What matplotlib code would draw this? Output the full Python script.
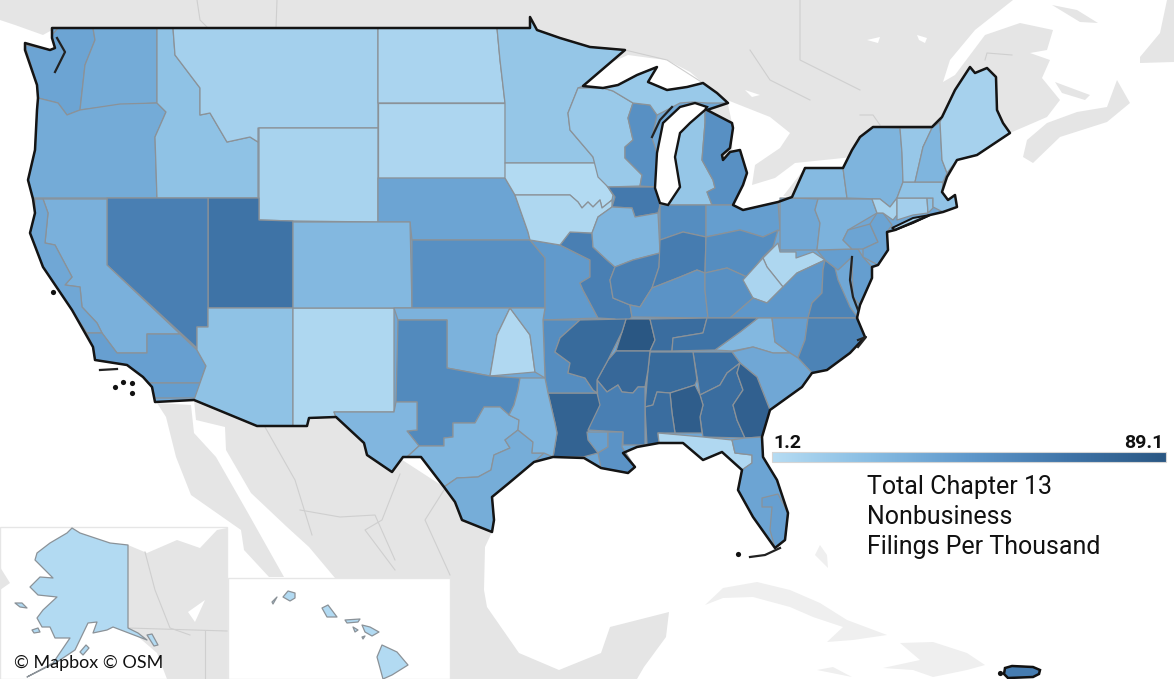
"""Chapter 13 nonbusiness filings per thousand, by court district (hand traced outlines)."""
import matplotlib
matplotlib.use("Agg")
import matplotlib.pyplot as plt
import numpy as np
from matplotlib.colors import LinearSegmentedColormap, Normalize
from matplotlib.patches import Polygon, Rectangle

# filings per thousand
DISTRICTS = ["WA W", "WA E", "OR", "ID", "MT", "WY", "ND", "SD", "NE", "MN", "UT", "NV",
             "CA E", "CA N", "CA C", "CA S", "AZ", "NM", "CO", "KS", "MO W", "MO E", "IA N", "IA S",
             "WI W", "WI E", "MI UP", "MI W", "MI E", "IL N", "IL C", "IL S", "IN N", "IN S",
             "OH N", "OH S", "KY W", "KY E", "WV N", "WV S", "VA W", "VA E", "MD", "PA W", "PA M",
             "PA E", "NJ", "NY W", "NY N", "NY E", "NY LI", "CT", "RI", "MA", "VT", "NH", "ME",
             "NC W", "NC M", "NC E", "SC", "GA N", "GA M", "GA S", "AL N", "AL M", "AL S",
             "TN W", "TN M", "TN E", "MS N", "MS S", "LA W", "LA M", "LA E", "AR W", "AR E",
             "OK W", "OK N", "OK E", "TX N", "TX W", "TX C", "TX S", "TX E",
             "FL N", "FL M", "FL S", "AK", "AK 2", "AK 3", "AK 4", "AK 5",
             "HI 1", "HI 2", "HI 3", "HI 4", "HI 5", "HI 6", "HI 7", "HI 8", "PR"]
FILINGS = [38, 34, 34, 20, 10, 8, 7, 6, 38, 17, 68, 60,
           31, 36, 41, 42, 20, 5, 26, 50, 44, 60, 3, 5,
           15, 50, 15, 17, 50, 64, 28, 60, 52, 62,
           42, 52, 48, 50, 5, 7, 46, 58, 42, 36, 30,
           38, 38, 25, 29, 8, 6, 11, 20, 19, 16, 28, 9,
           26, 41, 58, 36, 70, 72, 82, 74, 84, 72,
           89, 72, 68, 76, 60, 80, 40, 48, 52, 74,
           30, 4, 28, 54, 27, 28, 33, 28,
           4, 38, 41, 3, 3, 3, 3, 3,
           3, 3, 3, 3, 3, 3, 3, 3, 62]
VALUE_MIN, VALUE_MAX = 1.2, 89.1

SHAPES = {
    "WA W": [(58, 28), (93, 28), (95, 40), (85, 65), (80, 110), (67, 115), (58, 103), (38, 98), (37, 85), (25, 45), (50, 50), (55, 48), (52, 35)],
    "WA E": [(93, 28), (157, 28), (157, 103), (120, 105), (80, 110), (85, 65), (95, 40)],
    "OR": [(38, 98), (58, 103), (67, 115), (80, 110), (120, 104), (157, 103), (166, 112), (155, 137), (157, 198), (33, 198), (28, 180), (35, 150), (37, 110)],
    "ID": [(157, 28), (173, 28), (175, 55), (200, 88), (200, 115), (210, 113), (227, 142), (250, 137), (258, 142), (258, 198), (157, 198), (155, 137), (166, 112), (157, 103)],
    "MT": [(173, 28), (378, 28), (378, 128), (258, 128), (258, 142), (250, 137), (227, 142), (210, 113), (200, 115), (200, 88), (175, 55)],
    "WY": [(259, 128), (378, 128), (378, 222), (293, 221), (259, 220)],
    "ND": [(378, 28), (497, 28), (500, 60), (505, 103), (378, 103)],
    "SD": [(378, 103), (505, 103), (505, 178), (378, 178)],
    "NE": [(378, 178), (505, 178), (515, 195), (528, 232), (530, 240), (412, 240), (410, 222), (378, 222)],
    "MN": [(497, 28), (530, 28), (530, 17), (537, 30), (560, 38), (590, 47), (625, 50), (583, 86), (578, 88), (568, 113), (570, 130), (593, 157), (595, 163), (505, 163), (505, 103), (500, 60)],
    "UT": [(208, 198), (259, 198), (259, 220), (293, 221), (293, 308), (208, 308)],
    "NV": [(107, 198), (208, 198), (208, 327), (197, 327), (197, 348), (107, 265)],
    "CA E": [(43, 199), (107, 199), (107, 265), (197, 350), (180, 334), (147, 334), (147, 353), (117, 353), (102, 333), (97, 323), (82, 307), (80, 287), (65, 285), (72, 277), (55, 245), (45, 243), (48, 213)],
    "CA N": [(35, 199), (43, 199), (48, 213), (45, 243), (55, 245), (72, 277), (65, 285), (80, 287), (82, 307), (97, 323), (102, 333), (87, 333), (72, 310), (43, 267), (30, 233), (35, 213)],
    "CA C": [(87, 333), (102, 333), (117, 353), (147, 353), (147, 334), (180, 334), (197, 350), (206, 366), (200, 383), (148, 383), (143, 377), (127, 365), (95, 360), (93, 347)],
    "CA S": [(148, 383), (200, 383), (197, 398), (155, 398), (152, 387)],
    "AZ": [(197, 327), (208, 327), (208, 308), (293, 308), (293, 426), (257, 426), (194, 400), (200, 383), (206, 366), (197, 350)],
    "NM": [(293, 308), (394, 308), (394, 412), (334, 412), (336, 417), (309, 418), (307, 426), (293, 426)],
    "CO": [(293, 222), (410, 222), (412, 308), (293, 308)],
    "KS": [(412, 240), (530, 240), (545, 258), (545, 308), (412, 308)],
    "MO W": [(530, 240), (560, 245), (590, 260), (590, 277), (580, 283), (583, 290), (590, 303), (598, 318), (543, 320), (545, 308), (545, 258)],
    "MO E": [(560, 245), (570, 232), (592, 233), (593, 247), (607, 260), (615, 267), (610, 280), (613, 298), (630, 305), (632, 317), (620, 328), (615, 319), (598, 318), (590, 303), (583, 290), (580, 283), (590, 277), (590, 260)],
    "IA N": [(505, 163), (595, 163), (600, 175), (613, 195), (612, 200), (602, 208), (600, 200), (593, 207), (588, 202), (582, 208), (578, 202), (570, 195), (515, 195), (505, 178)],
    "IA S": [(515, 195), (570, 195), (578, 202), (582, 208), (588, 202), (593, 207), (600, 200), (602, 208), (612, 200), (612, 207), (598, 217), (592, 233), (570, 232), (560, 245), (530, 240), (528, 232)],
    "WI W": [(578, 88), (603, 88), (613, 91), (633, 103), (628, 118), (633, 140), (625, 147), (625, 158), (642, 175), (640, 186), (608, 187), (598, 177), (593, 157), (570, 130), (568, 113)],
    "WI E": [(633, 103), (650, 105), (657, 115), (652, 138), (657, 153), (655, 187), (640, 186), (642, 175), (625, 158), (625, 147), (633, 140), (628, 118)],
    "MI UP": [(603, 88), (618, 85), (637, 75), (657, 67), (648, 82), (667, 90), (687, 87), (703, 83), (717, 93), (728, 103), (707, 103), (693, 102), (680, 103), (663, 112), (657, 115), (650, 105), (633, 103), (613, 91)],
    "MI W": [(690, 123), (705, 110), (705, 123), (703, 147), (702, 160), (713, 180), (715, 188), (707, 192), (712, 205), (668, 205), (680, 187), (675, 157), (680, 133)],
    "MI E": [(705, 110), (732, 123), (733, 128), (730, 148), (722, 155), (723, 160), (730, 152), (740, 150), (747, 173), (743, 185), (733, 205), (712, 205), (707, 192), (715, 188), (713, 180), (702, 160), (703, 147), (705, 123)],
    "IL N": [(608, 187), (655, 187), (660, 205), (658, 213), (635, 217), (632, 208), (612, 207), (615, 197)],
    "IL C": [(612, 207), (632, 208), (635, 217), (658, 213), (660, 253), (633, 260), (615, 267), (607, 260), (593, 247), (592, 233), (598, 217)],
    "IL S": [(615, 267), (633, 260), (660, 253), (659, 267), (652, 288), (640, 307), (630, 305), (613, 298), (610, 280)],
    "IN N": [(660, 205), (706, 205), (706, 237), (683, 232), (660, 240)],
    "IN S": [(660, 240), (683, 232), (706, 237), (705, 273), (697, 270), (680, 277), (652, 288), (659, 267)],
    "OH N": [(706, 205), (733, 205), (743, 210), (778, 202), (780, 230), (763, 237), (740, 230), (706, 237)],
    "OH S": [(706, 237), (740, 230), (763, 237), (778, 230), (773, 247), (763, 257), (747, 277), (727, 268), (705, 273)],
    "KY W": [(632, 317), (630, 305), (640, 307), (652, 288), (680, 277), (697, 270), (705, 273), (705, 290), (708, 318)],
    "KY E": [(705, 273), (727, 268), (747, 277), (753, 298), (730, 318), (708, 318), (705, 290)],
    "WV N": [(763, 258), (778, 243), (780, 252), (796, 252), (796, 258), (813, 252), (825, 260), (797, 273), (783, 287), (767, 267)],
    "WV S": [(763, 258), (767, 267), (783, 287), (767, 303), (753, 298), (743, 280)],
    "VA W": [(730, 318), (753, 298), (767, 303), (783, 287), (797, 273), (825, 260), (823, 270), (822, 293), (812, 303), (808, 318)],
    "VA E": [(825, 260), (835, 268), (838, 280), (850, 307), (858, 318), (808, 318), (812, 303), (822, 293), (823, 270)],
    "MD": [(817, 250), (858, 249), (863, 257), (872, 267), (872, 278), (860, 305), (853, 297), (852, 257), (838, 270), (825, 260)],
    "PA W": [(780, 198), (792, 198), (818, 199), (815, 210), (820, 223), (817, 250), (780, 250)],
    "PA M": [(818, 199), (872, 199), (877, 213), (848, 230), (843, 240), (852, 249), (817, 250), (820, 223), (815, 210)],
    "PA E": [(848, 230), (870, 224), (878, 242), (863, 249), (852, 249), (843, 240)],
    "NJ": [(877, 213), (883, 213), (892, 225), (887, 232), (888, 250), (878, 265), (863, 257), (863, 249), (878, 242), (870, 224)],
    "NY W": [(792, 198), (805, 168), (843, 168), (847, 198)],
    "NY N": [(843, 168), (852, 150), (860, 137), (873, 127), (900, 128), (902, 153), (903, 182), (897, 198), (890, 207), (880, 199), (847, 198)],
    "NY E": [(872, 199), (880, 199), (890, 207), (897, 198), (897, 215), (893, 220), (883, 213), (877, 213)],
    "NY LI": [(892, 228), (913, 218), (930, 215), (913, 223), (895, 230)],
    "CT": [(897, 198), (927, 198), (928, 213), (913, 215), (897, 220)],
    "RI": [(927, 198), (933, 198), (933, 208), (928, 213)],
    "MA": [(903, 182), (943, 182), (942, 192), (948, 200), (955, 195), (957, 207), (943, 212), (933, 207), (933, 198), (897, 198)],
    "VT": [(900, 128), (932, 128), (923, 147), (915, 182), (903, 182), (902, 153)],
    "NH": [(932, 128), (940, 122), (942, 160), (947, 173), (943, 182), (915, 182), (923, 147)],
    "ME": [(940, 122), (955, 90), (970, 67), (975, 73), (987, 68), (996, 77), (997, 110), (1003, 123), (1010, 133), (977, 155), (957, 160), (947, 173), (942, 160)],
    "NC W": [(758, 318), (772, 318), (775, 342), (790, 353), (773, 353), (753, 347), (732, 351), (715, 350), (740, 332)],
    "NC M": [(772, 318), (808, 318), (805, 340), (798, 358), (790, 353), (775, 342)],
    "NC E": [(808, 318), (857, 318), (865, 337), (850, 353), (827, 370), (812, 373), (798, 358), (805, 340)],
    "SC": [(732, 352), (753, 347), (773, 353), (790, 353), (798, 358), (812, 373), (802, 387), (770, 410), (757, 377), (740, 363)],
    "GA N": [(693, 352), (732, 352), (740, 363), (727, 373), (720, 385), (700, 395)],
    "GA M": [(700, 395), (720, 385), (727, 373), (740, 363), (737, 373), (743, 390), (733, 405), (737, 420), (745, 438), (703, 437), (700, 417), (703, 405)],
    "GA S": [(740, 363), (757, 377), (770, 410), (762, 437), (745, 438), (737, 420), (733, 405), (743, 390), (737, 373)],
    "AL N": [(650, 352), (693, 352), (697, 380), (695, 385), (670, 393), (657, 392), (653, 405), (645, 407), (648, 370)],
    "AL M": [(670, 393), (695, 385), (700, 395), (703, 405), (700, 417), (702, 433), (675, 433), (672, 413)],
    "AL S": [(657, 392), (670, 393), (672, 413), (675, 433), (658, 433), (659, 443), (647, 445), (645, 407), (653, 405)],
    "TN W": [(626, 319), (650, 319), (655, 340), (650, 351), (616, 351), (622, 332)],
    "TN M": [(650, 319), (707, 318), (703, 333), (673, 338), (672, 351), (650, 351), (655, 340)],
    "TN E": [(707, 318), (758, 318), (740, 332), (715, 350), (672, 351), (673, 338), (703, 333)],
    "MS N": [(616, 351), (650, 351), (648, 370), (645, 387), (638, 387), (633, 393), (622, 392), (618, 385), (607, 392), (597, 380), (608, 360)],
    "MS S": [(597, 380), (607, 392), (618, 385), (622, 392), (633, 393), (638, 387), (645, 387), (645, 445), (623, 445), (623, 432), (588, 430), (598, 405)],
    "LA W": [(548, 393), (597, 393), (600, 405), (588, 430), (598, 453), (583, 457), (553, 457), (557, 433), (555, 423)],
    "LA M": [(587, 432), (608, 432), (608, 447), (598, 453), (588, 440)],
    "LA E": [(608, 432), (623, 432), (622, 447), (635, 467), (628, 473), (601, 468), (598, 453), (608, 447)],
    "AR W": [(543, 320), (580, 320), (560, 338), (555, 352), (570, 363), (568, 373), (585, 378), (593, 390), (597, 393), (548, 393), (545, 378)],
    "AR E": [(580, 320), (626, 319), (622, 332), (608, 360), (597, 380), (597, 393), (593, 390), (585, 378), (568, 373), (570, 363), (555, 352), (560, 338)],
    "OK W": [(394, 308), (510, 308), (497, 335), (490, 376), (447, 368), (447, 320), (398, 320)],
    "OK N": [(510, 308), (530, 335), (535, 372), (490, 376), (497, 335)],
    "OK E": [(510, 308), (545, 308), (543, 320), (545, 378), (535, 372), (530, 335)],
    "TX N": [(398, 320), (447, 320), (447, 368), (490, 376), (520, 378), (518, 390), (514, 405), (509, 415), (500, 407), (484, 407), (475, 423), (453, 423), (453, 437), (444, 438), (444, 446), (419, 446), (407, 431), (417, 430), (417, 402), (396, 402)],
    "TX W": [(334, 412), (394, 412), (396, 402), (417, 402), (417, 430), (407, 431), (419, 446), (407, 457), (403, 457), (392, 472), (367, 455), (364, 443), (336, 417)],
    "TX C": [(419, 446), (444, 446), (444, 438), (453, 437), (453, 423), (475, 423), (484, 407), (500, 407), (509, 415), (519, 420), (518, 430), (505, 440), (510, 448), (494, 455), (491, 470), (478, 477), (457, 478), (444, 487), (421, 457), (407, 457)],
    "TX S": [(457, 478), (478, 477), (491, 470), (494, 455), (510, 448), (505, 440), (518, 430), (533, 442), (532, 453), (544, 453), (534, 462), (509, 483), (492, 497), (494, 520), (492, 532), (462, 520), (455, 502), (444, 487)],
    "TX E": [(520, 378), (545, 378), (548, 393), (555, 423), (557, 433), (553, 457), (544, 453), (532, 453), (533, 442), (518, 430), (519, 420), (509, 415), (514, 405), (518, 390)],
    "FL N": [(658, 433), (703, 437), (732, 440), (735, 453), (752, 455), (752, 463), (742, 470), (722, 452), (703, 460), (683, 443), (659, 443)],
    "FL M": [(732, 440), (745, 438), (762, 437), (763, 457), (777, 480), (788, 513), (785, 540), (775, 548), (753, 517), (738, 490), (742, 470), (752, 463), (752, 455), (735, 453)],
    "FL S": [(762, 498), (778, 494), (788, 513), (785, 540), (775, 548), (770, 530), (772, 507), (762, 507)],
    "AK": [(72, 528), (80, 533), (110, 543), (128, 545), (128, 628), (138, 633), (147, 640), (113, 627), (107, 630), (93, 633), (97, 622), (88, 623), (75, 650), (57, 662), (27, 677), (53, 663), (70, 638), (55, 638), (50, 627), (42, 627), (37, 618), (43, 610), (57, 597), (38, 595), (30, 587), (40, 577), (53, 578), (35, 560), (37, 553), (50, 543), (67, 533)],
    "AK 2": [(15, 603), (22, 603), (27, 608), (20, 607)],
    "AK 3": [(32, 630), (38, 628), (40, 632), (34, 633)],
    "AK 4": [(80, 652), (86, 645), (89, 648), (83, 655)],
    "AK 5": [(147, 635), (152, 634), (158, 645), (154, 646)],
    "HI 1": [(283, 597), (288, 591), (295, 593), (295, 598), (290, 601)],
    "HI 2": [(272, 602), (277, 597), (273, 604)],
    "HI 3": [(322, 608), (328, 605), (337, 617), (327, 617)],
    "HI 4": [(345, 620), (360, 619), (358, 622), (347, 623)],
    "HI 5": [(353, 627), (358, 630), (355, 632)],
    "HI 6": [(362, 625), (370, 627), (379, 632), (372, 636), (365, 632)],
    "HI 7": [(362, 637), (365, 636), (363, 639)],
    "HI 8": [(382, 645), (397, 652), (408, 665), (392, 675), (383, 679), (377, 657)],
    "PR": [(1005, 668), (1012, 666), (1033, 667), (1040, 670), (1039, 674), (1033, 677), (1008, 678), (1004, 674)],
}

# background geography
CANADA = [(0, 0), (1013, 0), (975, 30), (950, 60), (943, 82), (955, 75), (985, 35), (1020, 23), (1053, 30), (1047, 50), (1030, 53), (1050, 60), (1042, 78), (1060, 100), (1047, 117), (1010, 133), (960, 150), (900, 200), (800, 200), (600, 150), (60, 60), (52, 30), (43, 35), (15, 25), (0, 20)]
NOVA_SCOTIA = [(1023, 157), (1027, 140), (1047, 123), (1077, 112), (1107, 107), (1117, 80), (1130, 103), (1107, 122), (1060, 137), (1033, 163)]
PEI = [(1055, 82), (1090, 95), (1085, 100), (1062, 93)]
ANTICOSTI = [(1052, 5), (1077, 10), (1098, 23), (1080, 22)]
NEWFOUNDLAND = [(1140, 63), (1140, 57), (1160, 33), (1167, 0), (1174, 0), (1174, 62)]
MEXICO = [(194, 400), (257, 426), (336, 417), (444, 487), (492, 532), (485, 547), (484, 590), (487, 607), (519, 653), (559, 670), (601, 653), (610, 627), (669, 612), (666, 637), (644, 667), (637, 679), (320, 679), (335, 578), (309, 547), (287, 527), (251, 493), (226, 450), (225, 427), (196, 420)]
BAJA = [(157, 403), (191, 405), (194, 433), (216, 457), (248, 513), (284, 577), (269, 577), (244, 550), (241, 530), (191, 495), (176, 457), (166, 417)]
CUBA = [(705, 605), (723, 588), (757, 582), (790, 590), (820, 603), (847, 620), (887, 635), (853, 640), (827, 642), (843, 627), (813, 617), (790, 607), (753, 597), (723, 598)]
HISPANIOLA = [(900, 643), (933, 642), (967, 653), (985, 665), (967, 670), (933, 677), (913, 670), (883, 668), (920, 660)]
JAMAICA = [(817, 670), (833, 667), (852, 677)]
ANDROS = [(815, 555), (820, 545), (827, 555), (828, 568)]
YUKON = [(128, 545), (147, 553), (177, 540), (200, 548), (217, 530), (227, 528), (227, 679), (167, 679), (157, 653), (128, 628)]
CHUKOTKA = [(0, 567), (10, 583), (0, 590)]
SUPERIOR = [(583, 86), (610, 63), (628, 55), (650, 58), (667, 60), (690, 72), (703, 83), (728, 103), (640, 110)]
HURON_ERIE = [(727, 100), (770, 117), (790, 133), (780, 148), (755, 165), (752, 185), (775, 178), (795, 163), (853, 157), (860, 137), (843, 168), (805, 168), (780, 200), (733, 205), (732, 123)]
INLAND_WATER = [[(917, 35), (927, 38), (925, 43), (919, 40)], [(867, 40), (880, 37), (878, 43)], [(745, 90), (760, 95), (752, 97)], [(188, 612), (205, 600), (195, 622)]]
LAKE_MICHIGAN = [(695, 103), (707, 107), (705, 110), (690, 123), (680, 133), (675, 157), (680, 187), (668, 205), (660, 203), (655, 188), (657, 153), (663, 123), (680, 107)]
COAST = [(52, 28), (52, 38), (55, 48), (50, 50), (25, 43), (25, 50), (37, 85), (38, 98), (37, 110), (35, 150), (28, 180), (33, 199), (35, 213), (30, 233), (43, 267), (72, 310), (93, 347), (95, 360), (127, 365), (143, 377), (152, 387), (155, 402), (194, 400), (257, 426), (307, 426), (309, 418), (336, 417), (364, 443), (367, 455), (392, 472), (403, 457), (421, 457), (444, 487), (455, 502), (462, 520), (492, 532), (494, 520), (492, 497), (509, 483), (534, 462), (553, 457), (584, 458), (601, 468), (628, 473), (635, 467), (623, 453), (637, 447), (659, 443), (683, 443), (703, 460), (722, 452), (742, 470), (738, 490), (753, 517), (775, 548), (785, 540), (788, 513), (777, 480), (763, 457), (762, 437), (770, 410), (802, 387), (812, 373), (827, 370), (850, 353), (865, 337), (857, 318), (860, 305), (872, 278), (872, 267), (878, 265), (888, 250), (887, 232), (895, 230), (930, 215), (943, 212), (957, 207), (955, 195), (948, 200), (942, 192), (947, 177), (957, 160), (977, 155), (1010, 133), (1003, 123), (997, 110), (996, 77), (987, 68), (975, 73), (970, 67), (955, 90), (942, 117), (932, 127), (873, 127), (860, 137), (852, 150), (843, 168), (805, 168), (792, 197), (778, 202), (743, 210), (733, 205), (743, 185), (747, 173), (740, 150), (730, 152), (723, 160), (722, 155), (730, 148), (733, 128), (732, 123), (707, 110), (728, 103), (717, 93), (703, 83), (687, 87), (667, 90), (648, 82), (657, 67), (637, 75), (618, 85), (603, 88), (583, 86), (625, 50), (590, 47), (560, 38), (537, 30), (530, 17), (530, 28), (497, 28), (52, 28)]
GREEN_BAY = [(652, 137), (660, 120), (672, 107)]
CHESAPEAKE = [(852, 257), (850, 280), (853, 297), (858, 310)]
PUGET = [(57, 38), (65, 52), (55, 72)]
PAMLICO = [(858, 340), (866, 337), (858, 347)]
FL_KEYS = [(750, 557), (765, 555), (780, 548)]
SANTA_CRUZ = [(100, 370), (117, 369)]
GREY_BORDERS = [
    [(197, 0), (200, 20), (208, 28)], [(277, 0), (276, 28)], [(625, 50), (667, 60), (703, 83)],
    [(750, 50), (770, 80), (810, 100)], [(800, 0), (800, 60), (860, 90)], [(860, 115), (873, 115), (880, 125)],
    [(985, 60), (987, 53), (1012, 55)], [(265, 427), (295, 480), (312, 535)], [(400, 474), (382, 520), (365, 530), (395, 570)],
    [(444, 490), (425, 520), (450, 575)], [(300, 510), (340, 517), (375, 515), (395, 560)], [(145, 552), (155, 590), (170, 628), (190, 635)],
    [(128, 628), (227, 631)], [(205, 631), (205, 679)],
]
DOTS = [(738, 554), (1000, 673), (53, 292), (115, 387), (132, 383), (132, 393), (123, 382)]

LAND = "#e5e5e5"
LIGHT_LAND = "#efefef"
EDGE = "#8b9298"
BLUES = LinearSegmentedColormap.from_list("filings", ["#b6dcf3", "#88bde3", "#5f98cb", "#3f74a8", "#2a5783"])
NORM = Normalize(VALUE_MIN, VALUE_MAX)

plt.rcParams["font.family"] = ["Roboto", "DejaVu Sans"]
fig = plt.figure(figsize=(11.74, 6.79), dpi=100)
ax = fig.add_axes([0, 0, 1, 1])
ax.set_xlim(0, 1174)
ax.set_ylim(679, 0)
ax.axis("off")

for pts in [CANADA, NOVA_SCOTIA, PEI, ANTICOSTI, NEWFOUNDLAND, MEXICO, BAJA]:
    ax.add_patch(Polygon(pts, fc=LAND, ec="none", zorder=1))
for pts in [CUBA, HISPANIOLA, JAMAICA, ANDROS]:
    ax.add_patch(Polygon(pts, fc=LIGHT_LAND, ec="none", zorder=1))
for pts in [SUPERIOR, HURON_ERIE] + INLAND_WATER[:3]:
    ax.add_patch(Polygon(pts, fc="white", ec="none", zorder=1.5))
for line in GREY_BORDERS:
    xs, ys = zip(*line)
    ax.plot(xs, ys, color="#cfcfcf", lw=0.8, zorder=1.6)

# inset panels for Alaska and Hawaii
ax.add_patch(Rectangle((0, 527), 227, 152, fc="white", ec="#e6e6e6", lw=1, zorder=2))
ax.add_patch(Rectangle((228, 578), 222, 101, fc="white", ec="#e6e6e6", lw=1, zorder=2))
ax.add_patch(Polygon(YUKON, fc=LAND, ec="none", zorder=2.1))
ax.add_patch(Polygon(CHUKOTKA, fc=LAND, ec="none", zorder=2.1))
ax.add_patch(Polygon(INLAND_WATER[3], fc="white", ec="none", zorder=2.15))
for line in GREY_BORDERS[-3:]:
    xs, ys = zip(*line)
    ax.plot(xs, ys, color="#cfcfcf", lw=0.8, zorder=2.2)

ax.add_patch(Polygon(COAST, fc=BLUES(NORM(36)), ec="none", zorder=2.5))
for name, value in zip(DISTRICTS, FILINGS):
    ax.add_patch(Polygon(SHAPES[name], fc=BLUES(NORM(value)), ec=EDGE, lw=0.9, joinstyle="round", zorder=3))
ax.add_patch(Polygon(SHAPES["PR"], fc="none", ec="#111111", lw=1.8, zorder=4))
ax.add_patch(Polygon(SHAPES["NY LI"], fc="none", ec="#141414", lw=1.4, zorder=4))

ax.add_patch(Polygon(COAST, fc="none", ec="#141414", lw=1.8, joinstyle="round", zorder=4))
ax.add_patch(Polygon(LAKE_MICHIGAN, fc="white", ec="#141414", lw=1.7, zorder=4))
for line in [GREEN_BAY, CHESAPEAKE, PUGET, PAMLICO, FL_KEYS, SANTA_CRUZ]:
    xs, ys = zip(*line)
    ax.plot(xs, ys, color="#222222", lw=1.6, zorder=4)
ax.scatter(*zip(*DOTS), s=14, color="#111111", lw=0, zorder=4)

# colour legend
grad = np.linspace(0, 1, 256)[None, :]
ax.imshow(grad, cmap=BLUES, extent=(772, 1166, 462, 452), aspect="auto", zorder=5)
ax.add_patch(Rectangle((772, 452), 394, 10, fc="none", ec="#d5d5d5", lw=0.8, zorder=5.1))
ax.set_xlim(0, 1174)
ax.set_ylim(679, 0)
ax.text(773, 448, f"{VALUE_MIN}", fontsize=14, fontweight="bold", va="baseline", ha="left", color="#111111", zorder=6)
ax.text(1163, 448, f"{VALUE_MAX}", fontsize=14, fontweight="bold", va="baseline", ha="right", color="#111111", zorder=6)
for y, line in zip([494, 524, 554], ["Total Chapter 13", "Nonbusiness", "Filings Per Thousand"]):
    ax.text(867, y, line, fontsize=18, va="baseline", ha="left", color="#111111", zorder=6)

ax.text(14, 668, "© Mapbox © OSM", family=["Lato", "DejaVu Sans"], fontsize=13, va="baseline", ha="left", color="#111111", zorder=6)

fig.savefig("out.png", dpi=100)
